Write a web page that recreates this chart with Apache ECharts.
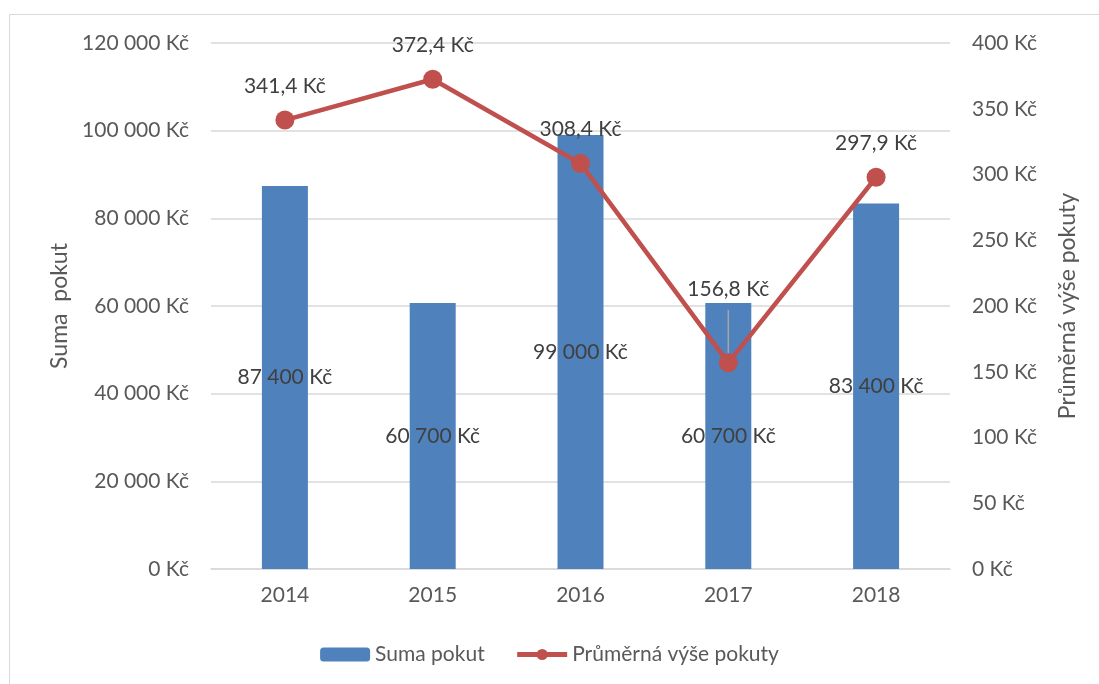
<!DOCTYPE html>
<html>
<head>
<meta charset="utf-8">
<script src="https://cdn.jsdelivr.net/npm/echarts@6/dist/echarts.min.js"></script>
<style>
    html,body{margin:0;padding:0;background:#fff;}
    #chart{width:1099px;height:684px;}
</style>
</head>
<body>
<div id="chart"></div>
<script>
    /*数据*/
    var years = ['2014', '2015', '2016', '2017', '2018'];
    var sumaPokut = [87400, 60700, 99000, 60700, 83400];
    var prumernaVyse = [341.4, 372.4, 308.4, 156.8, 297.9];

    var txtColor = '#595959';
    var font = 'Lato';

    function czk(v){
        return String(Math.round(v)).replace(/\B(?=(\d{3})+(?!\d))/g, ' ') + ' Kč';
    }
    function czkDec(v){
        return v.toFixed(1).replace('.', ',') + ' Kč';
    }

    var lineData = prumernaVyse.map(function(v, i){
        if(i === 3){
            return {value: v, label: {offset: [0, -40]}, labelLine: {show: true}};
        }
        return v;
    });

    var chart = echarts.init(document.getElementById('chart'));
    var option = {
        animation: false,
        textStyle: {fontFamily: font},
        graphic: [{
            type: 'rect',
            shape: {x: 9.5, y: 14.5, width: 1100, height: 700},
            style: {fill: null, stroke: '#d9d9d9', lineWidth: 1}
        }],
        grid: {left: 211, right: 149, top: 43, bottom: 115},
        legend: {
            bottom: 14,
            left: 'center',
            itemGap: 30,
            itemWidth: 50,
            itemHeight: 14,
            textStyle: {color: txtColor, fontSize: 21, fontFamily: font},
            data: [
                {name: 'Suma pokut'},
                {name: 'Průměrná výše pokuty', lineStyle: {width: 5}}
            ]
        },
        xAxis: {
            type: 'category',
            data: years,
            axisTick: {show: false},
            axisLine: {lineStyle: {color: '#d9d9d9', width: 1.5}},
            axisLabel: {color: txtColor, fontSize: 21, margin: 16}
        },
        yAxis: [{
            type: 'value',
            min: 0,
            max: 120000,
            interval: 20000,
            name: 'Suma  pokut',
            nameLocation: 'middle',
            nameGap: 140,
            nameTextStyle: {color: txtColor, fontSize: 23},
            axisLine: {show: false},
            axisTick: {show: false},
            splitLine: {lineStyle: {color: '#d9d9d9', width: 1.5}},
            axisLabel: {color: txtColor, fontSize: 21, margin: 22, formatter: czk}
        }, {
            type: 'value',
            min: 0,
            max: 400,
            interval: 50,
            name: 'Průměrná výše pokuty',
            nameLocation: 'middle',
            nameGap: 106,
            nameTextStyle: {color: txtColor, fontSize: 23},
            axisLine: {show: false},
            axisTick: {show: false},
            splitLine: {show: false},
            axisLabel: {color: txtColor, fontSize: 21, margin: 22, formatter: czk}
        }],
        series: [{
            name: 'Suma pokut',
            type: 'bar',
            data: sumaPokut,
            barWidth: 46,
            itemStyle: {color: '#4f81bd'},
            label: {
                show: true,
                position: 'inside',
                color: '#404040',
                fontSize: 21,
                formatter: function(p){ return czk(p.value); }
            }
        }, {
            name: 'Průměrná výše pokuty',
            type: 'line',
            yAxisIndex: 1,
            data: lineData,
            symbol: 'circle',
            symbolSize: 19,
            lineStyle: {color: '#c0504d', width: 4.5},
            itemStyle: {color: '#c0504d'},
            labelLine: {lineStyle: {color: '#a6a6a6', width: 1.5}},
            label: {
                show: true,
                position: 'top',
                distance: 14,
                color: '#404040',
                fontSize: 21,
                formatter: function(p){ return czkDec(p.value); }
            }
        }]
    };
    chart.setOption(option);
</script>
</body>
</html>
